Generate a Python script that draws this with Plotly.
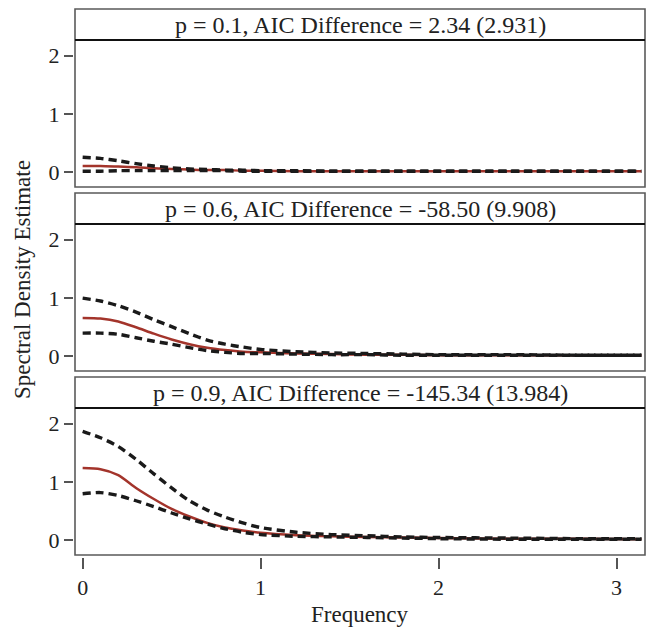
import plotly.graph_objects as go

freq = [0.0, 0.1, 0.2, 0.3, 0.4, 0.5, 0.6, 0.7, 0.8, 0.9, 1.0, 1.2, 1.4, 1.6, 1.8, 2.0, 2.4, 2.8, 3.14]

titles = [
    "p = 0.1, AIC Difference = 2.34 (2.931)",
    "p = 0.6, AIC Difference = -58.50 (9.908)",
    "p = 0.9, AIC Difference = -145.34 (13.984)",
]

est_p01 = [0.11, 0.11, 0.10, 0.09, 0.07, 0.06, 0.05, 0.04, 0.04, 0.03, 0.03, 0.02, 0.02, 0.02, 0.02, 0.02, 0.02, 0.02, 0.02]
upp_p01 = [0.26, 0.24, 0.20, 0.15, 0.11, 0.08, 0.06, 0.05, 0.04, 0.04, 0.03, 0.03, 0.02, 0.02, 0.02, 0.02, 0.02, 0.02, 0.02]
low_p01 = [0.02, 0.02, 0.03, 0.03, 0.03, 0.03, 0.03, 0.03, 0.03, 0.02, 0.02, 0.02, 0.02, 0.02, 0.02, 0.02, 0.02, 0.02, 0.02]

est_p06 = [0.66, 0.65, 0.60, 0.50, 0.39, 0.29, 0.21, 0.15, 0.11, 0.08, 0.07, 0.05, 0.04, 0.03, 0.03, 0.02, 0.02, 0.02, 0.02]
upp_p06 = [1.00, 0.95, 0.87, 0.76, 0.63, 0.51, 0.39, 0.28, 0.21, 0.16, 0.12, 0.08, 0.06, 0.05, 0.04, 0.03, 0.03, 0.02, 0.02]
low_p06 = [0.40, 0.40, 0.38, 0.32, 0.26, 0.21, 0.15, 0.10, 0.07, 0.05, 0.05, 0.04, 0.03, 0.03, 0.02, 0.02, 0.02, 0.02, 0.02]

est_p09 = [1.24, 1.22, 1.12, 0.90, 0.71, 0.54, 0.41, 0.30, 0.22, 0.17, 0.13, 0.09, 0.07, 0.06, 0.05, 0.04, 0.03, 0.03, 0.02]
upp_p09 = [1.87, 1.76, 1.61, 1.39, 1.14, 0.90, 0.68, 0.52, 0.40, 0.30, 0.22, 0.14, 0.10, 0.08, 0.06, 0.05, 0.04, 0.03, 0.03]
low_p09 = [0.80, 0.82, 0.77, 0.68, 0.58, 0.47, 0.37, 0.28, 0.20, 0.14, 0.10, 0.07, 0.06, 0.05, 0.04, 0.03, 0.02, 0.02, 0.02]

x_ticks = [0, 1, 2, 3]
y_ticks = [0, 1, 2]

panels = [
    (est_p01, upp_p01, low_p01),
    (est_p06, upp_p06, low_p06),
    (est_p09, upp_p09, low_p09),
]

W, H = 647, 627
FONT = "Liberation Serif, Times New Roman, serif"
left_px, right_px = 75, 645
strip_top = [9, 193, 377]
strip_bot = [40, 224, 408]
plot_bot = [187, 371, 555]

def py(px):
    return 1 - px / H

fig = go.Figure()
shapes = []
annotations = []
red = "#a3342b"

for i, (est, upp, low) in enumerate(panels):
    yname = "y" if i == 0 else f"y{i+1}"
    fig.add_trace(go.Scatter(x=freq, y=est, xaxis="x", yaxis=yname, mode="lines",
                             line=dict(color=red, width=2.5, shape="spline", smoothing=0.7),
                             showlegend=False, hoverinfo="skip"))
    for band in (upp, low):
        fig.add_trace(go.Scatter(x=freq, y=band, xaxis="x", yaxis=yname, mode="lines",
                                 line=dict(color="#1a1a1a", width=3.4, dash="8px,5px",
                                           shape="spline", smoothing=0.7),
                                 showlegend=False, hoverinfo="skip"))
    yax = dict(domain=[py(plot_bot[i]), py(strip_bot[i])], range=[-0.25, 2.27],
               anchor="free", position=73 / W, showline=False, showgrid=False, zeroline=False,
               tickmode="array", tickvals=y_ticks, ticks="outside", ticklen=9, tickwidth=1.5,
               tickcolor="#555555", tickfont=dict(family=FONT, size=22, color="#222222"))
    key = "yaxis" if i == 0 else f"yaxis{i+1}"
    fig.update_layout(**{key: yax})
    shapes.append(dict(type="rect", xref="paper", yref="paper",
                       x0=left_px / W, x1=right_px / W, y0=py(plot_bot[i]), y1=py(strip_top[i]),
                       line=dict(color="#5a5a5a", width=1.6), fillcolor="rgba(0,0,0,0)", layer="above"))
    shapes.append(dict(type="line", xref="paper", yref="paper",
                       x0=left_px / W, x1=right_px / W, y0=py(strip_bot[i]), y1=py(strip_bot[i]),
                       line=dict(color="#111111", width=2.2), layer="above"))
    annotations.append(dict(text=titles[i], xref="paper", yref="paper",
                            x=(left_px + right_px) / 2 / W, y=py((strip_top[i] + strip_bot[i]) / 2 + 0.5),
                            xanchor="center", yanchor="middle", showarrow=False,
                            font=dict(family=FONT, size=24, color="#222222")))

annotations.append(dict(text="Spectral Density Estimate", xref="paper", yref="paper",
                        x=22 / W, y=py(280), textangle=-90, xanchor="center", yanchor="middle",
                        showarrow=False, font=dict(family=FONT, size=23, color="#222222")))
annotations.append(dict(text="Frequency", xref="paper", yref="paper",
                        x=(left_px + right_px) / 2 / W, y=py(614), xanchor="center", yanchor="middle",
                        showarrow=False, font=dict(family=FONT, size=23, color="#222222")))

fig.update_layout(
    width=W, height=H,
    margin=dict(l=0, r=0, t=0, b=0),
    paper_bgcolor="white", plot_bgcolor="white",
    xaxis=dict(domain=[left_px / W, right_px / W], range=[-0.043, 3.16],
               anchor="free", position=py(557), showline=False, showgrid=False, zeroline=False,
               tickmode="array", tickvals=x_ticks, ticks="outside", ticklen=11, tickwidth=1.5,
               tickcolor="#555555", tickfont=dict(family=FONT, size=22, color="#222222")),
    shapes=shapes,
    annotations=annotations,
)

fig.write_html("out.html", config={"displayModeBar": False},
               post_script="document.body.style.margin='0px';document.body.style.overflow='hidden';")
